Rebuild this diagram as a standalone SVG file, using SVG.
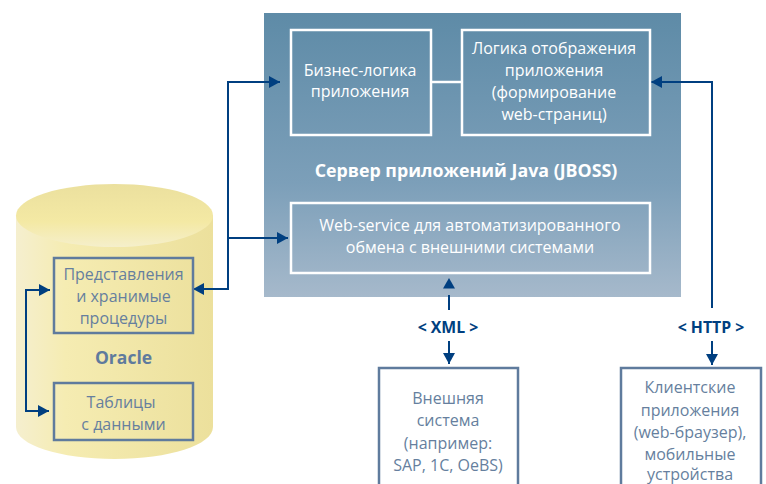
<svg xmlns="http://www.w3.org/2000/svg" width="766" height="484" viewBox="0 0 766 484">
<style>
text{font-family:"Open Sans","Noto Sans","Liberation Sans",sans-serif;font-size:16px;text-anchor:middle}
.w{fill:#fff}
.d{fill:#667f9e}
.wb{fill:none;stroke:#fff;stroke-width:2.5}
.db{fill:none;stroke:#5f7b9d;stroke-width:2.5}
.c{fill:none;stroke:#003f80;stroke-width:2}
.lab{fill:#003f80;font-weight:700;font-size:15.8px}
</style>
<defs>
<linearGradient id="srv" x1="0" y1="0" x2="0" y2="1"><stop offset="0" stop-color="#5e8ba7"/><stop offset=".6" stop-color="#7c9fb9"/><stop offset="1" stop-color="#a6b9cb"/></linearGradient>
<linearGradient id="body" x1="0" y1="0" x2="1" y2="0"><stop offset="0" stop-color="#f5efcf"/><stop offset=".25" stop-color="#f5ecb2"/><stop offset="1" stop-color="#ece09c"/></linearGradient>
<linearGradient id="top" x1="0" y1="0" x2="0" y2="1"><stop offset="0" stop-color="#ebe09e"/><stop offset=".6" stop-color="#f4e9a4"/><stop offset="1" stop-color="#f5efcb"/></linearGradient>
<marker id="a" markerUnits="userSpaceOnUse" markerWidth="12" markerHeight="12" refX="11" refY="6" orient="auto-start-reverse"><path d="M0 0L11 6L0 12z" fill="#003f80"/></marker>
</defs>
<g id="oracle">
<path d="M16 215V427C16 445 60 459 114.500 459S213 445 213 427V215z" fill="url(#body)"/>
<ellipse cx="114.500" cy="215.500" rx="98.500" ry="31.500" fill="url(#top)"/>
<text x="123.500" y="364" style="font-weight:700;font-size:17.5px;fill:#5f7b9d">Oracle</text>
</g>
<g id="server">
<rect x="264" y="13" width="417" height="284" fill="url(#srv)"/>
<text class="w" x="466" y="177" style="font-weight:700;font-size:17.8px">Сервер приложений Java (JBOSS)</text>
</g>
<g id="connectors">
<path class="c" d="M193 289H228V82H280" marker-start="url(#a)" marker-end="url(#a)"/>
<path class="c" d="M228 238H288" marker-end="url(#a)"/>
<path class="c" d="M50 290H26V411H49" marker-start="url(#a)" marker-end="url(#a)"/>
<path class="c" d="M651 82H712V308" marker-start="url(#a)"/>
<path class="c" d="M712 341V365" marker-end="url(#a)"/>
<path class="c" d="M449 295V310"/>
<path d="M449 278L455 288.500H443z" fill="#003f80"/>
<path class="c" d="M449 341V364" marker-end="url(#a)"/>
<path d="M431 82H462" stroke="#fff" stroke-width="2.500"/>
</g>
<g id="views"><rect class="db" x="54" y="258" width="139" height="75"/>
<text class="d" x="123.500" y="280">Представления</text><text class="d" x="123.500" y="302">и хранимые</text><text class="d" x="123.500" y="324">процедуры</text></g>
<g id="tables"><rect class="db" x="54" y="383" width="139" height="57"/>
<text class="d" x="121" y="408">Таблицы</text><text class="d" x="123.500" y="430">с данными</text></g>
<g id="business"><rect class="wb" x="291" y="30" width="140" height="105"/>
<text class="w" x="360" y="76">Бизнес-логика</text><text class="w" x="360" y="97">приложения</text></g>
<g id="display"><rect class="wb" x="462" y="30" width="188" height="105"/>
<text class="w" x="554" y="54">Логика отображения</text><text class="w" x="554" y="76">приложения</text><text class="w" x="554" y="98">(формирование</text><text class="w" x="554" y="120">web-страниц)</text></g>
<g id="webservice"><rect class="wb" x="291" y="203" width="359" height="70"/>
<text class="w" x="470" y="231">Web-service для автоматизированного</text><text class="w" x="470" y="253">обмена с внешними системами</text></g>
<g id="external"><rect class="db" x="379" y="368" width="139" height="130"/>
<text class="d" x="448" y="404">Внешняя</text><text class="d" x="448" y="426">система</text><text class="d" x="448" y="449">(например:</text><text class="d" x="448" y="471">SAP, 1C, OeBS)</text></g>
<g id="clients"><rect class="db" x="621" y="368" width="140" height="130"/>
<text class="d" x="690" y="393">Клиентские</text><text class="d" x="690" y="416">приложения</text><text class="d" x="690" y="438">(web-браузер),</text><text class="d" x="690" y="460">мобильные</text><text class="d" x="690" y="480">устройства</text></g>
<text class="lab" x="448" y="333">&lt; XML &gt;</text>
<text class="lab" x="711" y="333">&lt; HTTP &gt;</text>
</svg>
